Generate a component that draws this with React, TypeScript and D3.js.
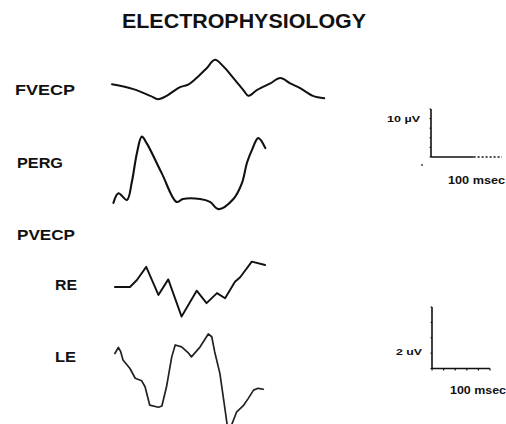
import React from 'react';
import * as d3 from 'd3';

// flash VEP and pattern ERG (10 uV / 100 msec gain)
const fvecpMs = [0, 30, 54, 65, 77, 91, 96, 108, 119, 133, 145, 157, 171, 185, 192, 204, 223, 237, 251, 265, 283, 299];
const fvecpUv = [0, -1.0, -2.4, -3.1, -2.4, -1.0, -0.6, 0, 1.3, 3.3, 5.1, 3.7, 1.3, -1.2, -2.4, -1.2, 0.2, 1.3, 0.2, -0.8, -2.4, -2.9];

const pergMs = [2, 9, 21, 28, 35, 42, 49, 70, 91, 100, 124, 138, 150, 171, 183, 190, 197, 206, 216];
const pergUv = [-0.6, 1.4, 0, 3.8, 9.7, 13.2, 11.8, 5.6, -0.4, 0.2, 0.2, -0.4, -1.9, 0.2, 3.5, 7.7, 10.4, 12.9, 10.8];

// pattern VEP, right and left eye (2 uV / 100 msec gain)
const reMs = [5, 31, 43, 59, 80, 97, 120, 146, 163, 181, 195, 212, 221, 241, 264];
const reUv = [0, 0, 0.23, 0.66, -0.26, 0.25, -0.97, -0.12, -0.53, -0.2, -0.37, 0.17, 0.32, 0.83, 0.72];

const leMs = [5, 11, 15, 19, 31, 40, 51, 57, 65, 80, 86, 94, 103, 109, 120, 132, 137, 152, 166, 172, 177, 186, 195, 199, 205, 215, 226, 235, 244, 252, 261];
const leUv = [0.54, 0.74, 0.6, 0.33, 0.05, -0.27, -0.35, -0.55, -1.15, -1.22, -1.18, -0.55, 0.43, 0.82, 0.76, 0.55, 0.43, 0.76, 1.18, 1.09, 0.6, -0.11, -1.31, -1.86, -1.86, -1.37, -1.18, -0.93, -0.66, -0.6, -0.63];

const labels = [
  { text: 'FVECP', x: 15, y: 95, w: 60 },
  { text: 'PERG', x: 17, y: 168, w: 46 },
  { text: 'PVECP', x: 17, y: 240, w: 58 },
  { text: 'RE', x: 55, y: 290, w: 22 },
  { text: 'LE', x: 55, y: 362, w: 21 },
];

const font = '"Liberation Sans", Arial, Helvetica, sans-serif';

const App: React.FC = () => {
  const width = 506;
  const height = 424;

  // time bases
  const tTop = d3.scaleLinear().domain([0, 100]).range([112, 183]);
  const tBot = d3.scaleLinear().domain([0, 100]).range([112, 170]);

  // amplitude scales, one per trace baseline
  const gainTop = (y0: number) => d3.scaleLinear().domain([0, 10]).range([y0, y0 - 48]);
  const gainBot = (y0: number) => d3.scaleLinear().domain([0, 2]).range([y0, y0 - 61]);

  const traces = [
    { ms: fvecpMs, uv: fvecpUv, x: tTop, y: gainTop(84.3), curve: d3.curveCatmullRom, w: 2 },
    { ms: pergMs, uv: pergUv, x: tTop, y: gainTop(200), curve: d3.curveCatmullRom, w: 2.1 },
    { ms: reMs, uv: reUv, x: tBot, y: gainBot(287), curve: d3.curveLinear, w: 1.9 },
    { ms: leMs, uv: leUv, x: tBot, y: gainBot(370), curve: d3.curveLinear, w: 1.7 },
  ];

  const paths = traces.map((t) =>
    d3
      .line<number>()
      .x((_, i) => t.x(t.ms[i]))
      .y((d) => t.y(d))
      .curve(t.curve)(t.uv) || ''
  );

  // calibration bars
  const barTopX = d3.scaleLinear().domain([0, 100]).range([431, 502]);
  const barTopY = d3.scaleLinear().domain([0, 10]).range([157, 109]);
  const barBotX = d3.scaleLinear().domain([0, 100]).range([432, 490]);
  const barBotY = d3.scaleLinear().domain([0, 2]).range([368.5, 307]);

  return (
    <svg
      width={width}
      height={height}
      style={{ position: 'absolute', left: 0, top: 0, background: '#fff' }}
    >
      <text
        x={122}
        y={28}
        fontFamily={font}
        fontWeight="bold"
        fontSize={20}
        textLength={244}
        lengthAdjust="spacingAndGlyphs"
        fill="#111"
      >
        ELECTROPHYSIOLOGY
      </text>

      {labels.map((l) => (
        <text
          key={l.text}
          x={l.x}
          y={l.y}
          fontFamily={font}
          fontWeight="bold"
          fontSize={14}
          textLength={l.w}
          lengthAdjust="spacingAndGlyphs"
          fill="#111"
        >
          {l.text}
        </text>
      ))}

      {paths.map((d, i) => (
        <path
          key={i}
          d={d}
          fill="none"
          stroke={i === 3 ? '#222' : '#111'}
          strokeWidth={traces[i].w}
          strokeLinejoin="round"
          strokeLinecap="round"
        />
      ))}

      {/* top calibration: 10 uV / 100 msec */}
      <g stroke="#111" fill="none">
        <line x1={barTopX(0)} y1={barTopY(0)} x2={barTopX(0)} y2={barTopY(10)} strokeWidth={1.6} />
        <line x1={barTopX(0)} y1={barTopY(0)} x2={barTopX(60)} y2={barTopY(0)} strokeWidth={1.6} />
        <line x1={barTopX(60)} y1={barTopY(0)} x2={barTopX(100)} y2={barTopY(0)} strokeWidth={1.3} strokeDasharray="2 2" />
        {d3.range(0, 11, 2).map((v) => (
          <line key={v} x1={barTopX(0) - 1.5} x2={barTopX(0)} y1={barTopY(v)} y2={barTopY(v)} strokeWidth={1} />
        ))}
      </g>
      <circle cx={422} cy={165} r={0.9} fill="#333" />
      <text x={387} y={122} fontFamily={font} fontWeight="bold" fontSize={9} textLength={33} lengthAdjust="spacingAndGlyphs" fill="#111">
        10 µV
      </text>
      <text x={448} y={184} fontFamily={font} fontWeight="bold" fontSize={10} textLength={57} lengthAdjust="spacingAndGlyphs" fill="#111">
        100 msec
      </text>

      {/* bottom calibration: 2 uV / 100 msec */}
      <g stroke="#111" fill="none">
        <line x1={barBotX(0)} y1={barBotY(0)} x2={barBotX(0)} y2={barBotY(2)} strokeWidth={1.6} />
        <line x1={barBotX(0)} y1={barBotY(0)} x2={barBotX(100)} y2={barBotY(0)} strokeWidth={1.6} />
        {d3.range(0, 101, 20).map((v) => (
          <line key={v} x1={barBotX(v)} x2={barBotX(v)} y1={barBotY(0)} y2={barBotY(0) + 2} strokeWidth={1.2} />
        ))}
        {d3.range(0, 2.01, 0.5).map((v) => (
          <line key={v} x1={barBotX(0) - 1.5} x2={barBotX(0)} y1={barBotY(v)} y2={barBotY(v)} strokeWidth={1} />
        ))}
      </g>
      <text x={396} y={355} fontFamily={font} fontWeight="bold" fontSize={9} textLength={26} lengthAdjust="spacingAndGlyphs" fill="#111">
        2 uV
      </text>
      <text x={450} y={394} fontFamily={font} fontWeight="bold" fontSize={10} textLength={56} lengthAdjust="spacingAndGlyphs" fill="#111">
        100 msec
      </text>
    </svg>
  );
};

export default App;
